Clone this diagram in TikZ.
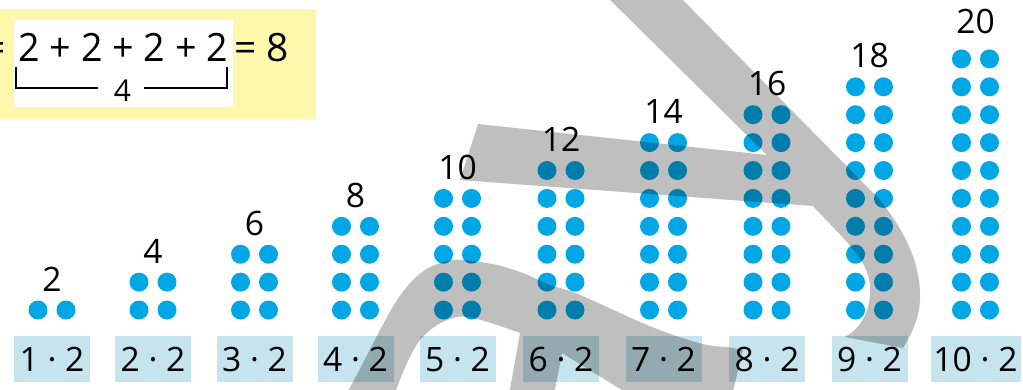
\documentclass[tikz,border=0pt]{standalone}
\usepackage{fontspec}
\setmainfont{Open Sans}
\definecolor{dotblue}{RGB}{0,167,228}
\definecolor{lblblue}{RGB}{197,228,237}
\definecolor{pale}{RGB}{255,247,172}
\definecolor{shade}{RGB}{191,191,191}
\tikzset{
  dotc/.style={circle, fill=dotblue, minimum size=19pt, inner sep=0pt},
  lbl/.style={fill=lblblue, minimum width=76pt, minimum height=46pt, inner sep=0pt,
    font=\fontsize{33.6}{36}\selectfont},
  num/.style={anchor=base, inner sep=0pt, font=\fontsize{33.6}{36}\selectfont},
  eq/.style={inner sep=0pt, font=\fontsize{39}{42}\selectfont},
  brk/.style={line width=2.8pt},
  overlay shade/.style={fill=shade, blend mode=multiply}
}
\begin{document}
\begin{tikzpicture}[x=1pt,y=-1pt]
\useasboundingbox (0,0) rectangle (1023,389);
\clip (0,0) rectangle (1023,389);
% equation panel
\fill[pale] (0,9) rectangle (316,119);
\fill[white] (14,20) rectangle (233,107);
\node[eq, anchor=base east] (eqa) at (6,61) {=};
\node[eq, anchor=base west] (eqb) at (18.5,61) {\scalebox{0.965}[1]{2 + 2 + 2 + 2}};
\node[eq, anchor=base west] (eqc) at (234,61) {= 8};
\node[num, font=\fontsize{30}{32}\selectfont] (four) at (122.5,101) {4};
\draw[brk] (16,67) -- (16,88) -- (98,88);
\draw[brk] (144,88) -- (227,88) -- (227,67);
% columns
\foreach \i/\x in {1/52,2/153,3/254.5,4/355.5,5/457.5,6/561,7/663.5,8/767,9/869.5,10/975.5}{
  \pgfmathtruncatemacro\v{2*\i}
  \foreach \r in {1,...,\i}{
    \pgfmathsetmacro\yy{310-27.9*(\r-1)}
    \node[dotc] (d\i-\r-a) at (\x-14,\yy) {};
    \node[dotc] (d\i-\r-b) at (\x+14,\yy) {};
  }
  \ifnum\i=10
    \pgfmathsetmacro\ny{33}
    \node[lbl, minimum width=90pt] (l\i) at (\x,359) {\i\ · 2};
  \else
    \pgfmathsetmacro\ny{310-27.9*(\i-1)-19}
    \node[lbl] (l\i) at (\x,359) {\i\ · 2};
  \fi
  \node[num] (n\i) at (\x,\ny) {\v};
}
% grey overlay strokes
\fill[overlay shade]
  (604,-6) -- (767,155) -- (478,124) -- (460,180) -- (813,206)
  .. controls (848,244) and (872,262) .. (870,293)
  .. controls (869,316) and (858,330) .. (845,337)
  -- (903,348)
  .. controls (912,333) and (921,316) .. (920,293)
  .. controls (919,258) and (902,228) .. (880,200)
  -- (677,-6) -- cycle;
\fill[overlay shade]
  plot[smooth] coordinates {(346,395) (363,363) (380,330) (397,300) (413,280) (430,267) (453,260) (473,261) (497,265) (523,273) (550,285) (573,292) (607,307) (640,322) (673,335) (707,345) (727,347) (743,350)}
  -- (732,395) -- (630,395) -- (562,353) -- (554,395) -- (509,395) -- (520,333)
  -- plot[smooth] coordinates {(520,333) (497,325) (473,318) (457,317) (437,325) (420,340) (407,363) (394,395)}
  -- cycle;
\end{tikzpicture}
\end{document}
